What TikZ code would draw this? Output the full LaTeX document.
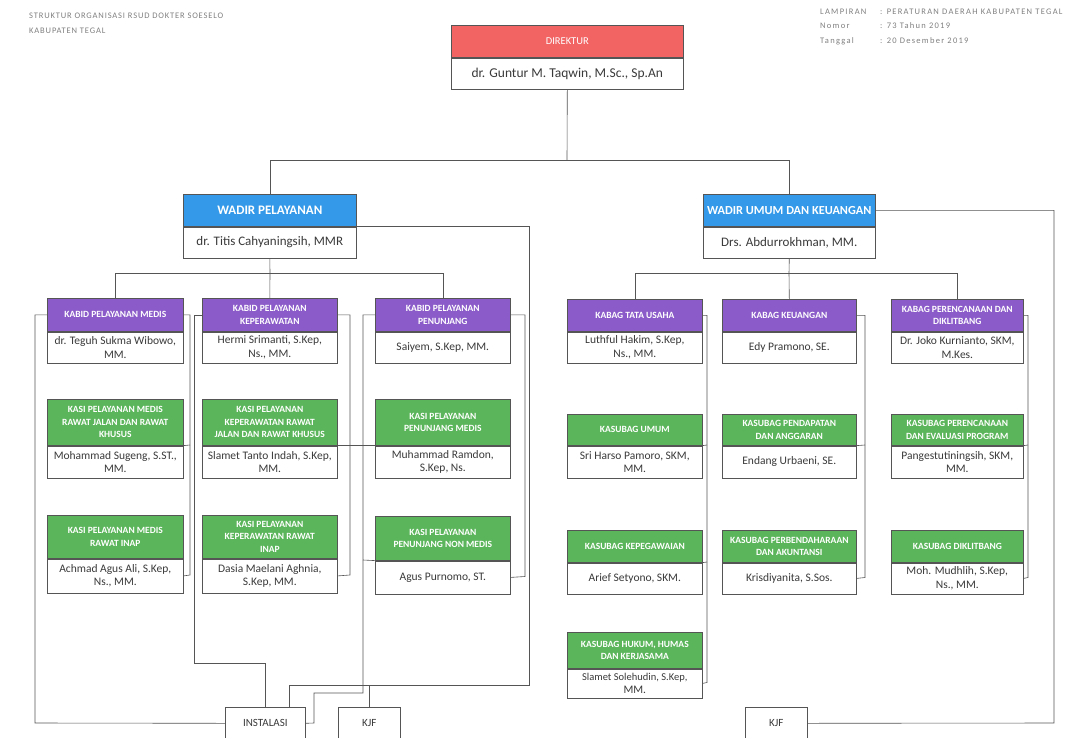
\documentclass[tikz,border=0pt]{standalone}
\usepackage{fontspec}
\setmainfont{Carlito}
\definecolor{dirred}{HTML}{F26464}
\definecolor{wblue}{HTML}{3399E8}
\definecolor{kpurple}{HTML}{8B5CC9}
\definecolor{kgreen}{HTML}{5BB55B}
\definecolor{ln}{HTML}{555555}
\definecolor{txt}{HTML}{3A3A3A}
\tikzset{
 hdr/.style={draw=ln, line width=0.6pt, anchor=north west, inner sep=0pt, align=center, text=white, font=\fontsize{9.5}{12.5}\selectfont\bfseries},
 nm/.style={draw=ln, line width=0.6pt, fill=white, anchor=north west, inner sep=0pt, align=center, text=txt, font=\fontsize{11.5}{13.5}\selectfont},
 conn/.style={draw=ln, line width=0.6pt},
 small/.style={text=gray, font=\fontsize{8.5}{10}\selectfont\addfontfeature{LetterSpace=10}, anchor=west, inner sep=0pt},
 smallr/.style={text=gray, font=\fontsize{8.5}{10}\selectfont\addfontfeature{LetterSpace=15}, anchor=west, inner sep=0pt},
 endbox/.style={draw=ln, line width=0.6pt, fill=white, anchor=north west, inner sep=0pt, text=txt, font=\fontsize{11}{12}\selectfont}
}
\newcommand{\orgunit}[9]{%
 \node[hdr, fill=#7, minimum width=#4pt, minimum height=#5pt] (#1-h) at (#2,#3) {#8};
 \node[nm, minimum width=#4pt, minimum height=#6pt] (#1-n) at (#1-h.south west) {#9};
}
\begin{document}
\begin{tikzpicture}[x=1pt,y=-1pt]
\useasboundingbox (0,0) rectangle (1078,737);
\clip (0,0) rectangle (1078,737);
\fill[white] (0,0) rectangle (1078,737);

% titles
\node[small] (t1) at (29,16) {STRUKTUR ORGANISASI RSUD DOKTER SOESELO};
\node[small] (t2) at (29,31) {KABUPATEN TEGAL};
\node[smallr] (l1) at (820,12) {LAMPIRAN};
\node[smallr] (l2) at (820,26) {Nomor};
\node[smallr] (l3) at (820,41) {Tanggal};
\node[smallr] (v1) at (880,12) {: PERATURAN DAERAH KABUPATEN TEGAL};
\node[smallr] (v2) at (880,26) {: 73 Tahun 2019};
\node[smallr] (v3) at (880,41) {: 20 Desember 2019};

% director and wadir
\orgunit{D}{451}{25}{232}{32}{31}{dirred}{\mdseries\fontsize{10.5}{12}\selectfont DIREKTUR}{\fontsize{13.5}{14}\selectfont dr. Guntur M. Taqwin, M.Sc., Sp.An}
\orgunit{WP}{183}{194}{173}{32}{31}{wblue}{\fontsize{13}{14}\selectfont WADIR PELAYANAN}{\fontsize{13}{14}\selectfont dr. Titis Cahyaningsih, MMR}
\orgunit{WU}{703}{194}{172}{32}{31}{wblue}{\fontsize{12.3}{14}\selectfont WADIR UMUM DAN KEUANGAN}{\fontsize{13}{14}\selectfont Drs. Abdurrokhman, MM.}

% kabid
\orgunit{KM}{47}{298}{136}{33}{31}{kpurple}{KABID PELAYANAN MEDIS}{dr. Teguh Sukma Wibowo,\\MM.}
\orgunit{KK}{202}{298}{135}{33}{31}{kpurple}{KABID PELAYANAN\\KEPERAWATAN}{Hermi Srimanti, S.Kep,\\Ns., MM.}
\orgunit{KP}{375}{298}{135}{33}{31}{kpurple}{KABID PELAYANAN\\PENUNJANG}{Saiyem, S.Kep, MM.}
% kasi row 1
\orgunit{M1}{47}{399}{136}{46}{32}{kgreen}{KASI PELAYANAN MEDIS\\RAWAT JALAN DAN RAWAT\\KHUSUS}{Mohammad Sugeng, S.ST.,\\MM.}
\orgunit{K1}{202}{399}{135}{46}{32}{kgreen}{KASI PELAYANAN\\KEPERAWATAN RAWAT\\JALAN DAN RAWAT KHUSUS}{Slamet Tanto Indah, S.Kep,\\MM.}
\orgunit{P1}{375}{399}{135}{46}{32}{kgreen}{KASI PELAYANAN\\PENUNJANG MEDIS}{Muhammad Ramdon,\\S.Kep, Ns.}
% kasi row 2
\orgunit{M2}{47}{515}{136}{43}{34}{kgreen}{KASI PELAYANAN MEDIS\\RAWAT INAP}{Achmad Agus Ali, S.Kep,\\Ns., MM.}
\orgunit{K2}{202}{515}{135}{43}{34}{kgreen}{KASI PELAYANAN\\KEPERAWATAN RAWAT\\INAP}{Dasia Maelani Aghnia,\\S.Kep, MM.}
\orgunit{P2}{375}{516}{135}{44}{33}{kgreen}{KASI PELAYANAN\\PENUNJANG NON MEDIS}{Agus Purnomo, ST.}

% kabag
\orgunit{T}{567}{299}{135}{32}{31}{kpurple}{KABAG TATA USAHA}{Luthful Hakim, S.Kep,\\Ns., MM.}
\orgunit{U}{722}{299}{134}{32}{31}{kpurple}{KABAG KEUANGAN}{Edy Pramono, SE.}
\orgunit{R}{891}{299}{132}{32}{31}{kpurple}{KABAG PERENCANAAN DAN\\DIKLITBANG}{Dr. Joko Kurnianto, SKM,\\M.Kes.}
% kasubag row 1
\orgunit{T1}{567}{414}{135}{31}{32}{kgreen}{KASUBAG UMUM}{Sri Harso Pamoro, SKM,\\MM.}
\orgunit{U1}{722}{414}{134}{31}{32}{kgreen}{KASUBAG PENDAPATAN\\DAN ANGGARAN}{Endang Urbaeni, SE.}
\orgunit{R1}{891}{414}{132}{31}{32}{kgreen}{KASUBAG PERENCANAAN\\DAN EVALUASI PROGRAM}{Pangestutiningsih, SKM,\\MM.}
% kasubag row 2
\orgunit{T2}{567}{530}{135}{32}{31}{kgreen}{KASUBAG KEPEGAWAIAN}{Arief Setyono, SKM.}
\orgunit{U2}{722}{530}{134}{32}{31}{kgreen}{KASUBAG PERBENDAHARAAN\\DAN AKUNTANSI}{Krisdiyanita, S.Sos.}
\orgunit{R2}{891}{530}{132}{32}{31}{kgreen}{KASUBAG DIKLITBANG}{Moh. Mudhlih, S.Kep,\\Ns., MM.}
% kasubag row 3
\orgunit{T3}{567}{632}{135}{36}{29}{kgreen}{KASUBAG HUKUM, HUMAS\\DAN KERJASAMA}{\fontsize{10.5}{12.5}\selectfont Slamet Solehudin, S.Kep,\\MM.}

% bottom boxes
\node[endbox, minimum width=80pt, minimum height=32pt] (INS) at (225,707) {INSTALASI};
\node[endbox, minimum width=62pt, minimum height=32pt] (KJF1) at (338,707) {KJF};
\node[endbox, minimum width=62pt, minimum height=32pt] (KJF2) at (745,707) {KJF};

% coordinates
\coordinate (dj) at (567,160);
\coordinate (wpj) at (270,273);
\coordinate (wuj) at (789,273);
\coordinate (wpb) at (529,685);

% main tree
\draw[conn] (D-n.south) -- (dj);
\draw[conn] (dj) -| (WP-h.north);
\draw[conn] (dj) -| (WU-h.north);
\draw[conn] (WP-n.south) -- (wpj);
\draw[conn] (wpj) -| (KM-h.north);
\draw[conn] (wpj) -| (KP-h.north);
\draw[conn] (wpj) -- (KK-h.north);
\draw[conn] (WU-n.south) -- (wuj);
\draw[conn] (wuj) -| (T-h.north);
\draw[conn] (wuj) -| (R-h.north);
\draw[conn] (wuj) -- (U-h.north);

% kabid brackets
\draw[conn] (KM-h.east) -| (190,575) -- (M2-n.east);
\draw[conn] (M1-h.south east) -- (190,445);
\draw[conn] (KK-h.east) -| (350,575) -- (K2-n.east);
\draw[conn] (K1-h.south east) -- (P1-h.south west);
\draw[conn] (KP-h.east) -| (525,576.5) -- (P2-n.east);
\draw[conn] (P2-h.south west) -- (363,560);

% kabag brackets
\draw[conn] (T-h.east) -| (707,682.5) -- (T3-n.east);
\draw[conn] (T1-h.south east) -- (707,445);
\draw[conn] (T2-h.south east) -- (707,562);
\draw[conn] (U-h.east) -| (865,577.5) -- (U2-n.east);
\draw[conn] (U1-h.south east) -- (865,445);
\draw[conn] (R-h.east) -| (1028,577.5) -- (R2-n.east);
\draw[conn] (R1-h.south east) -- (1028,445);

% to instalasi / kjf
\draw[conn] (KM-h.west) -| (35,723) -- (INS.west);
\draw[conn] (KK-h.west) -| (194,663) -| (INS.north);
\draw[conn] (KP-h.west) -| (363,693) -| (314,723) -- (INS.east);
\draw[conn] (WP-h.south east) -| (wpb) -| ([xshift=-16pt]INS.north east);
\draw[conn] (KJF1.north) -- (KJF1.north |- wpb);
\draw[conn] (WU-h.east) -| (1054,723) -- (KJF2.east);
\end{tikzpicture}
\end{document}
